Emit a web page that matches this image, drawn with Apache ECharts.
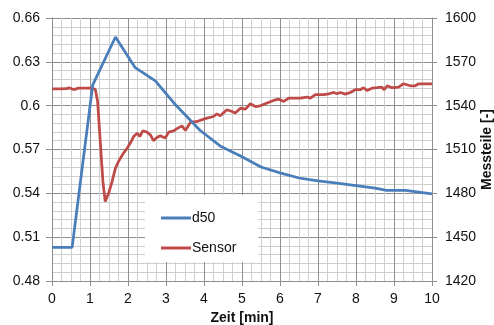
<!DOCTYPE html>
<html><head><meta charset="utf-8">
<script src="https://cdn.jsdelivr.net/npm/echarts@6/dist/echarts.min.js"></script>
<style>html,body{margin:0;padding:0;background:#fff}#c{width:494px;height:325px}</style>
</head><body><div id="c"></div>
<script>
const d50X = [0, 0.53, 1.07, 1.67, 2.19, 2.72, 3.2, 3.64, 3.9, 4.45, 5.0, 5.5, 6.0, 6.5, 7.0, 7.5, 8.0, 8.5, 8.8, 9.3, 10];
const d50Y = [0.503, 0.503, 0.614, 0.647, 0.626, 0.617, 0.602, 0.590, 0.583, 0.572, 0.565, 0.558, 0.554, 0.5505, 0.5485, 0.547, 0.5453, 0.5435, 0.542, 0.542, 0.5397];
const sensorX = [0, 0.2, 0.39, 0.45, 0.5, 0.57, 0.7, 0.9, 1.05, 1.14, 1.2, 1.27, 1.34, 1.40, 1.49, 1.58, 1.67, 1.75, 1.88, 1.97, 2.06, 2.15, 2.24, 2.31, 2.39, 2.5, 2.59, 2.67, 2.76, 2.85, 2.98, 3.07, 3.2, 3.29, 3.42, 3.51, 3.64, 3.82, 3.99, 4.08, 4.25, 4.34, 4.43, 4.6, 4.74, 4.82, 4.96, 5.09, 5.22, 5.35, 5.48, 5.66, 5.83, 5.96, 6.1, 6.23, 6.36, 6.53, 6.71, 6.8, 6.93, 7.15, 7.28, 7.41, 7.5, 7.59, 7.72, 7.85, 7.98, 8.11, 8.2, 8.29, 8.42, 8.55, 8.68, 8.74, 8.82, 8.95, 9.12, 9.25, 9.43, 9.56, 9.65, 10];
const sensorY = [1551.5, 1551.5, 1551.6, 1552.3, 1551.6, 1551, 1552, 1552, 1552, 1551, 1543, 1515.5, 1488, 1474.4, 1480, 1488, 1497.3, 1501.8, 1507.5, 1510.5, 1514.4, 1518.9, 1521.2, 1518.9, 1522.8, 1521.9, 1520, 1516, 1518.2, 1519.4, 1517.8, 1521.9, 1522.8, 1524.3, 1526.2, 1523, 1528.5, 1529.2, 1530.8, 1531.5, 1532.6, 1534.4, 1533.1, 1537.2, 1536, 1534.9, 1538.3, 1537.6, 1541.3, 1539.4, 1539.9, 1541.8, 1543.6, 1544.5, 1542.9, 1545.2, 1545.2, 1545.2, 1545.9, 1545.2, 1547.5, 1547.5, 1548.1, 1549, 1548.1, 1549, 1547.9, 1549, 1550.9, 1550.9, 1552.3, 1550.4, 1552, 1552.3, 1552.7, 1550.9, 1553.6, 1552.3, 1552.7, 1555, 1553.6, 1553.6, 1555, 1555];
const seriesNames = ['d50', 'Sensor'];
const xName = 'Zeit [min]';
const y2Name = 'Messteile [-]';

const FONT = 'Liberation Sans, Arial, sans-serif';
const FS = 14;
const major = '#8e8e8e', minor = '#cfcfcf';
const chart = echarts.init(document.getElementById('c'), null, {renderer: 'canvas'});
const lbl = {color: '#111', fontFamily: FONT, fontSize: FS};
chart.setOption({
  animation: false,
  backgroundColor: '#fff',
  grid: {left: 52, right: 62, top: 18, bottom: 44, containLabel: false, outerBoundsMode: 'none'},
  legend: {
    orient: 'vertical', left: 145, top: 195,
    backgroundColor: '#fff', padding: [16, 22, 7, 16],
    itemGap: 16, itemWidth: 30, itemHeight: 3, icon: 'rect',
    textStyle: {color: '#111', fontFamily: FONT, fontSize: FS, padding: [0, 0, 0, -4]},
    data: seriesNames
  },
  xAxis: {
    type: 'value', min: 0, max: 10, interval: 1,
    name: xName, nameLocation: 'middle', nameGap: 30,
    nameTextStyle: {color: '#111', fontFamily: FONT, fontSize: FS, fontWeight: 'bold'},
    axisLine: {show: true, lineStyle: {color: major}},
    axisTick: {show: true, length: 5, lineStyle: {color: major}},
    axisLabel: Object.assign({margin: 11}, lbl),
    splitLine: {show: true, lineStyle: {color: major, width: 1}},
    minorTick: {show: false, splitNumber: 4},
    minorSplitLine: {show: true, lineStyle: {color: minor, width: 1}}
  },
  yAxis: [{
    type: 'value', min: 0.48, max: 0.66, interval: 0.03,
    axisLine: {show: true, lineStyle: {color: major}},
    axisTick: {show: true, length: 6, lineStyle: {color: major}},
    axisLabel: Object.assign({margin: 12}, lbl),
    splitLine: {show: true, lineStyle: {color: major, width: 1}},
    minorTick: {show: false, splitNumber: 5},
    minorSplitLine: {show: true, lineStyle: {color: minor, width: 1}}
  }, {
    type: 'value', min: 1420, max: 1600, interval: 30, position: 'right',
    name: y2Name, nameLocation: 'middle', nameGap: 48, nameRotate: 90, nameMoveOverlap: false,
    nameTextStyle: {color: '#111', fontFamily: FONT, fontSize: FS, fontWeight: 'bold'},
    axisLine: {show: true, lineStyle: {color: major}},
    axisTick: {show: true, length: 5, lineStyle: {color: major}},
    axisLabel: Object.assign({margin: 13, formatter: v => String(v)}, lbl),
    splitLine: {show: false}
  }],
  series: [{
    name: seriesNames[0], type: 'line', yAxisIndex: 0, showSymbol: false, symbol: 'none',
    lineStyle: {color: '#4a7ebb', width: 2.75}, itemStyle: {color: '#4a7ebb'},
    data: d50X.map((x, i) => [x, d50Y[i]]), z: 3
  }, {
    name: seriesNames[1], type: 'line', yAxisIndex: 1, showSymbol: false, symbol: 'none',
    lineStyle: {color: '#be4b48', width: 2.75}, itemStyle: {color: '#be4b48'},
    data: sensorX.map((x, i) => [x, sensorY[i]]), z: 2
  }]
});
</script></body></html>
